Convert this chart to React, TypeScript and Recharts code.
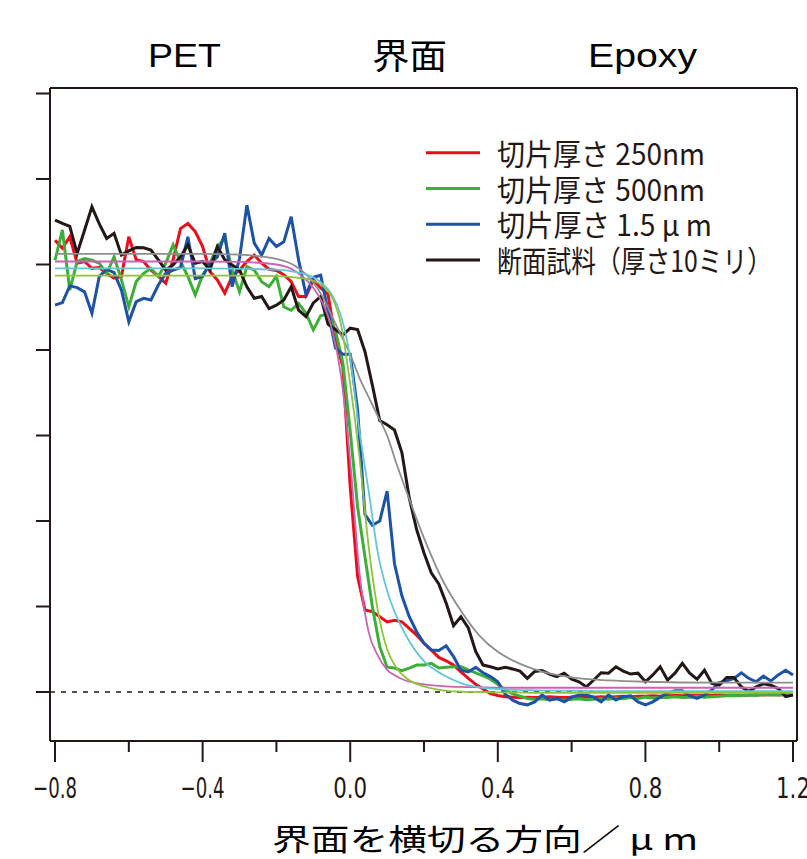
import React from 'react';
import { LineChart, Line, XAxis, YAxis, ReferenceLine, Legend } from 'recharts';

// profile across the PET / epoxy interface, sampled every 0.02 µm
const X_POS = [
  -0.8, -0.78, -0.76, -0.74, -0.72, -0.7, -0.68, -0.66, -0.64, -0.62,
  -0.6, -0.58, -0.56, -0.54, -0.52, -0.5, -0.48, -0.46, -0.44, -0.42,
  -0.4, -0.38, -0.36, -0.34, -0.32, -0.3, -0.28, -0.26, -0.24, -0.22,
  -0.2, -0.18, -0.16, -0.14, -0.12, -0.1, -0.08, -0.06, -0.04, -0.02,
  0, 0.02, 0.04, 0.06, 0.08, 0.1, 0.12, 0.14, 0.16, 0.18,
  0.2, 0.22, 0.24, 0.26, 0.28, 0.3, 0.32, 0.34, 0.36, 0.38,
  0.4, 0.42, 0.44, 0.46, 0.48, 0.5, 0.52, 0.54, 0.56, 0.58,
  0.6, 0.62, 0.64, 0.66, 0.68, 0.7, 0.72, 0.74, 0.76, 0.78,
  0.8, 0.82, 0.84, 0.86, 0.88, 0.9, 0.92, 0.94, 0.96, 0.98,
  1.0, 1.02, 1.04, 1.06, 1.08, 1.1, 1.12, 1.14, 1.16, 1.18,
  1.2,
];

const RED_250 = [
  1.057, 1.038, 1.065, 1.003, 1.007, 0.991, 0.993, 0.979, 0.968, 0.972,
  1.065, 1.011, 1.007, 0.987, 0.972, 0.956, 1.011, 1.084, 1.096, 1.077,
  1.042, 0.983, 0.964, 0.933, 0.972, 0.987, 1.007, 1.022, 1.003, 0.989,
  0.986, 0.976, 0.96, 0.925, 0.925, 0.964, 0.945, 0.93, 0.823, 0.761,
  0.48, 0.27, 0.192, 0.188, 0.176, 0.164, 0.168, 0.164, 0.149, 0.133,
  0.114, 0.098, 0.081, 0.073, 0.063, 0.047, 0.032, 0.018, 0.007, -0.004,
  -0.008, -0.011, -0.012, -0.013, -0.012, -0.013, -0.012, -0.011, -0.012, -0.013,
  -0.012, -0.011, -0.012, -0.012, -0.011, -0.012, -0.011, -0.01, -0.011, -0.01,
  -0.01, -0.009, -0.01, -0.009, -0.008, -0.009, -0.008, -0.008, -0.009, -0.008,
  -0.007, -0.008, -0.007, -0.008, -0.007, -0.006, -0.007, -0.006, -0.007, -0.006,
  -0.006,
];

const GREEN_500 = [
  1.01, 1.081, 0.94, 1.007, 1.014, 1.01, 1.003, 0.979, 1.018, 0.964,
  0.901, 0.96, 0.979, 0.991, 0.972, 1.003, 1.046, 1.007, 0.972, 0.929,
  0.975, 1.003, 1.042, 1.061, 0.987, 0.936, 0.995, 0.987, 0.96, 0.948,
  0.972, 0.901, 0.893, 0.909, 0.886, 0.847, 0.88, 0.885, 0.845, 0.77,
  0.61, 0.433, 0.316, 0.2, 0.106, 0.058, 0.056, 0.05, 0.056, 0.063,
  0.063, 0.067, 0.056, 0.058, 0.059, 0.059, 0.052, 0.045, 0.038, 0.03,
  0.018, 0.005, -0.004, -0.01, -0.015, -0.017, -0.016, -0.018, -0.016, -0.019,
  -0.017, -0.016, -0.018, -0.017, -0.015, -0.017, -0.014, -0.016, -0.013, -0.015,
  -0.012, -0.014, -0.012, -0.013, -0.011, -0.013, -0.012, -0.01, -0.012, -0.011,
  -0.01, -0.009, -0.008, -0.009, -0.007, -0.008, -0.006, -0.007, -0.006, -0.007,
  -0.006,
];

const BLUE_1500 = [
  0.905, 0.911, 0.95, 0.946, 0.936, 0.886, 0.972, 0.989, 0.981, 0.94,
  0.866, 0.913, 0.921, 0.917, 0.952, 0.979, 0.987, 0.993, 1.065, 0.967,
  0.972, 1.003, 1.018, 1.073, 0.948, 1.014, 1.139, 1.05, 1.022, 1.061,
  1.042, 1.053, 1.112, 1.011, 0.929, 0.97, 0.975, 0.89, 0.805, 0.79,
  0.79, 0.66, 0.415, 0.39, 0.4, 0.47, 0.3, 0.225, 0.176, 0.141,
  0.114, 0.098, 0.097, 0.108, 0.083, 0.051, 0.047, 0.058, 0.045, 0.036,
  0.024, -0.005, -0.019, -0.027, -0.03, -0.023, -0.007, -0.019, -0.015, -0.023,
  -0.012, -0.007, -0.007, -0.012, -0.023, -0.007, -0.019, -0.011, -0.009, -0.023,
  -0.03, -0.023, -0.012, -0.002, 0.003, 0.003, -0.009, -0.015, -0.007, 0.005,
  0.022, 0.026, 0.032, 0.045, 0.032, 0.024, 0.037, 0.026, 0.04, 0.051,
  0.04,
];

const BLACK_BULK = [
  1.104, 1.096, 1.089, 1.026, 1.08, 1.135, 1.095, 1.061, 1.073, 1.022,
  1.032, 1.04, 1.039, 1.034, 1.011, 0.987, 0.999, 1.018, 1.046, 1.003,
  1.007, 0.987, 1.042, 1.011, 0.999, 0.987, 0.948, 0.921, 0.925, 0.897,
  0.905, 0.917, 0.948, 0.893, 0.878, 0.91, 0.925, 0.86, 0.848, 0.835,
  0.851, 0.848, 0.796, 0.718, 0.635, 0.625, 0.613, 0.56, 0.454, 0.38,
  0.325, 0.278, 0.253, 0.208, 0.155, 0.176, 0.15, 0.095, 0.063, 0.059,
  0.054, 0.058, 0.054, 0.049, 0.032, 0.048, 0.05, 0.042, 0.036, 0.044,
  0.03, 0.024, 0.012, 0.028, 0.045, 0.044, 0.059, 0.049, 0.042, 0.044,
  0.024, 0.04, 0.059, 0.028, 0.044, 0.067, 0.044, 0.03, 0.051, 0.02,
  0.016, 0.034, 0.034, 0.012, 0.001, 0.012, 0.019, 0.016, 0.008, -0.011,
  -0.007,
];

// smooth fitted curves, read at coarser positions
const FIT_X = [
  -0.8, -0.4, -0.3, -0.2, -0.15, -0.1, -0.075, -0.05, -0.025, 0,
  0.025, 0.05, 0.075, 0.1, 0.125, 0.15, 0.2, 0.25, 0.3, 0.35,
  0.4, 0.45, 0.5, 0.6, 0.7, 0.8, 1.0, 1.2,
];
const FIT_GRAY = [
  1.025, 1.025, 1.023, 1.013, 0.997, 0.958, 0.925, 0.88, 0.835, 0.79,
  0.735, 0.69, 0.645, 0.6, 0.535, 0.475, 0.36, 0.262, 0.19, 0.132,
  0.094, 0.07, 0.053, 0.034, 0.027, 0.024, 0.022, 0.022,
];
const FIT_MAGENTA = [
  1.007, 1.007, 1.006, 1.0, 0.985, 0.945, 0.91, 0.85, 0.74, 0.54,
  0.28, 0.14, 0.085, 0.052, 0.037, 0.027, 0.018, 0.014, 0.012, 0.011,
  0.01, 0.01, 0.01, 0.01, 0.01, 0.01, 0.01, 0.01,
];
const FIT_CYAN = [
  0.991, 0.991, 0.99, 0.988, 0.983, 0.97, 0.955, 0.93, 0.88, 0.78,
  0.61, 0.47, 0.325, 0.237, 0.178, 0.134, 0.072, 0.041, 0.021, 0.011,
  0.007, 0.005, 0.004, 0.003, 0.002, 0.002, 0.002, 0.002,
];
const FIT_LIME = [
  0.974, 0.974, 0.974, 0.973, 0.97, 0.962, 0.95, 0.925, 0.86, 0.72,
  0.55, 0.34, 0.19, 0.1, 0.057, 0.034, 0.013, 0.004, 0.001, 0.0,
  -0.001, -0.001, -0.002, -0.002, -0.002, -0.002, -0.002, -0.002,
];

const X_MAJOR = [-0.8, -0.4, 0, 0.4, 0.8, 1.2];
const X_TICKS = [-0.8, -0.6, -0.4, -0.2, 0, 0.2, 0.4, 0.6, 0.8, 1.0, 1.2];
const Y_TICKS = [0, 0.2, 0.4, 0.6, 0.8, 1.0, 1.2, 1.4];
const X_DOMAIN = [-0.8136, 1.2108];
const Y_DOMAIN = [-0.1146, 1.4129];

const SERIES_NAMES = ['切片厚さ 250nm', '切片厚さ 500nm', '切片厚さ 1.5 μ m', '断面試料（厚さ10ミリ）'];
const REGION_LABELS = ['PET', '界面', 'Epoxy'];
const AXIS_TITLE = '界面を横切る方向／ μ m';

const INK = '#231815';
const CJK = "'Noto Sans CJK JP', sans-serif";
const NARROW = "'Liberation Sans Narrow', 'DejaVu Sans Condensed', sans-serif";

const SERIES = [
  { key: 'red', name: SERIES_NAMES[0], color: '#e60f1b', textLen: 208 },
  { key: 'green', name: SERIES_NAMES[1], color: '#3daf38', textLen: 208 },
  { key: 'blue', name: SERIES_NAMES[2], color: '#1d52a5', textLen: 215 },
  { key: 'black', name: SERIES_NAMES[3], color: INK, textLen: 275 },
];

const FITS = [
  { key: 'gray', color: '#8e8e8e' },
  { key: 'magenta', color: '#c963b4' },
  { key: 'cyan', color: '#63c5da' },
  { key: 'lime', color: '#8cc43c' },
];

const rows = X_POS.map((x, i) => ({
  x,
  red: RED_250[i],
  green: GREEN_500[i],
  blue: BLUE_1500[i],
  black: BLACK_BULK[i],
}));

const fitRows = FIT_X.map((x, i) => ({
  x,
  gray: FIT_GRAY[i],
  magenta: FIT_MAGENTA[i],
  cyan: FIT_CYAN[i],
  lime: FIT_LIME[i],
}));

// long tick + label on the major values, short tick on the others
const XTick = (props: any) => {
  const { x, y, payload } = props;
  const v = Number(payload.value);
  const major = X_MAJOR.some((m) => Math.abs(m - v) < 1e-6);
  const label = (v < 0 ? '−' : '') + Math.abs(v).toFixed(1);
  return (
    <g>
      <line x1={x} x2={x} y1={y} y2={y + (major ? 21 : 11)} stroke={INK} strokeWidth={2} />
      {major && (
        <text
          x={x}
          y={y + 36}
          dy="0.71em"
          textAnchor="middle"
          fontSize={29}
          fontFamily={NARROW}
          fill={INK}
          textLength={v < 0 ? 44 : 34}
          lengthAdjust="spacingAndGlyphs"
        >
          {label}
        </text>
      )}
    </g>
  );
};

const LegendBox = (props: any) => {
  const items = (props.payload || [])
    .filter((p: any) => p.type !== 'none')
    .slice()
    .sort((a: any, b: any) => SERIES_NAMES.indexOf(a.value) - SERIES_NAMES.indexOf(b.value));
  return (
    <svg width={385} height={175}>
      {items.map((p: any, i: number) => {
        const cfg = SERIES.find((s) => s.name === p.value);
        const rowY = 22.7 + i * 35.8;
        return (
          <g key={p.value}>
            <line x1={6} x2={60} y1={rowY} y2={rowY} stroke={p.color} strokeWidth={3} />
            <text
              x={77}
              y={rowY + 12}
              fontSize={30}
              fontFamily={CJK}
              fill={INK}
              textLength={cfg ? cfg.textLen : undefined}
              lengthAdjust="spacingAndGlyphs"
            >
              {p.value}
            </text>
          </g>
        );
      })}
    </svg>
  );
};

const App: React.FC = () => {
  return (
    <div style={{ position: 'absolute', left: 0, top: 0, width: 807, height: 859, background: '#fff' }}>
      <LineChart width={807} height={859} data={rows} margin={{ top: 0, right: 0, bottom: 0, left: 0 }}>
        <XAxis
          dataKey="x"
          type="number"
          domain={X_DOMAIN}
          allowDataOverflow
          ticks={X_TICKS}
          interval={0}
          height={118}
          tickSize={0}
          tickMargin={0}
          tickLine={false}
          stroke={INK}
          strokeWidth={2}
          tick={XTick}
        />
        <XAxis
          xAxisId="top"
          orientation="top"
          dataKey="x"
          type="number"
          domain={X_DOMAIN}
          allowDataOverflow
          height={88}
          stroke={INK}
          strokeWidth={2}
          tickLine={false}
          tick={false}
        />
        <YAxis
          type="number"
          domain={Y_DOMAIN}
          allowDataOverflow
          ticks={Y_TICKS}
          interval={0}
          width={50}
          tickSize={14}
          stroke={INK}
          strokeWidth={2}
          tickLine={{ stroke: INK, strokeWidth: 2 }}
          tick={() => <g />}
        />
        <YAxis
          yAxisId="right"
          orientation="right"
          type="number"
          domain={Y_DOMAIN}
          allowDataOverflow
          width={10}
          stroke={INK}
          strokeWidth={2}
          tickLine={false}
          tick={false}
        />
        <ReferenceLine y={0} stroke={INK} strokeWidth={1.5} strokeDasharray="5 6" />
        {SERIES.map((s) => (
          <Line
            key={s.key}
            type="linear"
            dataKey={s.key}
            name={s.name}
            stroke={s.color}
            strokeWidth={3}
            dot={false}
            isAnimationActive={false}
          />
        ))}
        {FITS.map((f) => (
          <Line
            key={f.key}
            data={fitRows}
            type="monotone"
            dataKey={f.key}
            stroke={f.color}
            strokeWidth={1.8}
            dot={false}
            legendType="none"
            isAnimationActive={false}
          />
        ))}
        <Legend
          layout="vertical"
          align="center"
          verticalAlign="middle"
          content={LegendBox}
          wrapperStyle={{ left: 420, top: 130, width: 385, height: 175 }}
        />
      </LineChart>
      <svg width={807} height={859} style={{ position: 'absolute', left: 0, top: 0, pointerEvents: 'none' }}>
        <text x={148} y={67} fontSize={33} fontFamily="'Liberation Sans', sans-serif" fill="#000" textLength={73} lengthAdjust="spacingAndGlyphs">
          {REGION_LABELS[0]}
        </text>
        <text x={372} y={69} fontSize={35} fontFamily={CJK} fill="#000" textLength={75} lengthAdjust="spacingAndGlyphs">
          {REGION_LABELS[1]}
        </text>
        <text x={588} y={67} fontSize={33} fontFamily="'Liberation Sans', sans-serif" fill="#000" textLength={109} lengthAdjust="spacingAndGlyphs">
          {REGION_LABELS[2]}
        </text>
        <text x={272} y={850} fontSize={30} fontFamily={CJK} fill="#000" textLength={426} lengthAdjust="spacingAndGlyphs">
          {AXIS_TITLE}
        </text>
      </svg>
    </div>
  );
};

export default App;
